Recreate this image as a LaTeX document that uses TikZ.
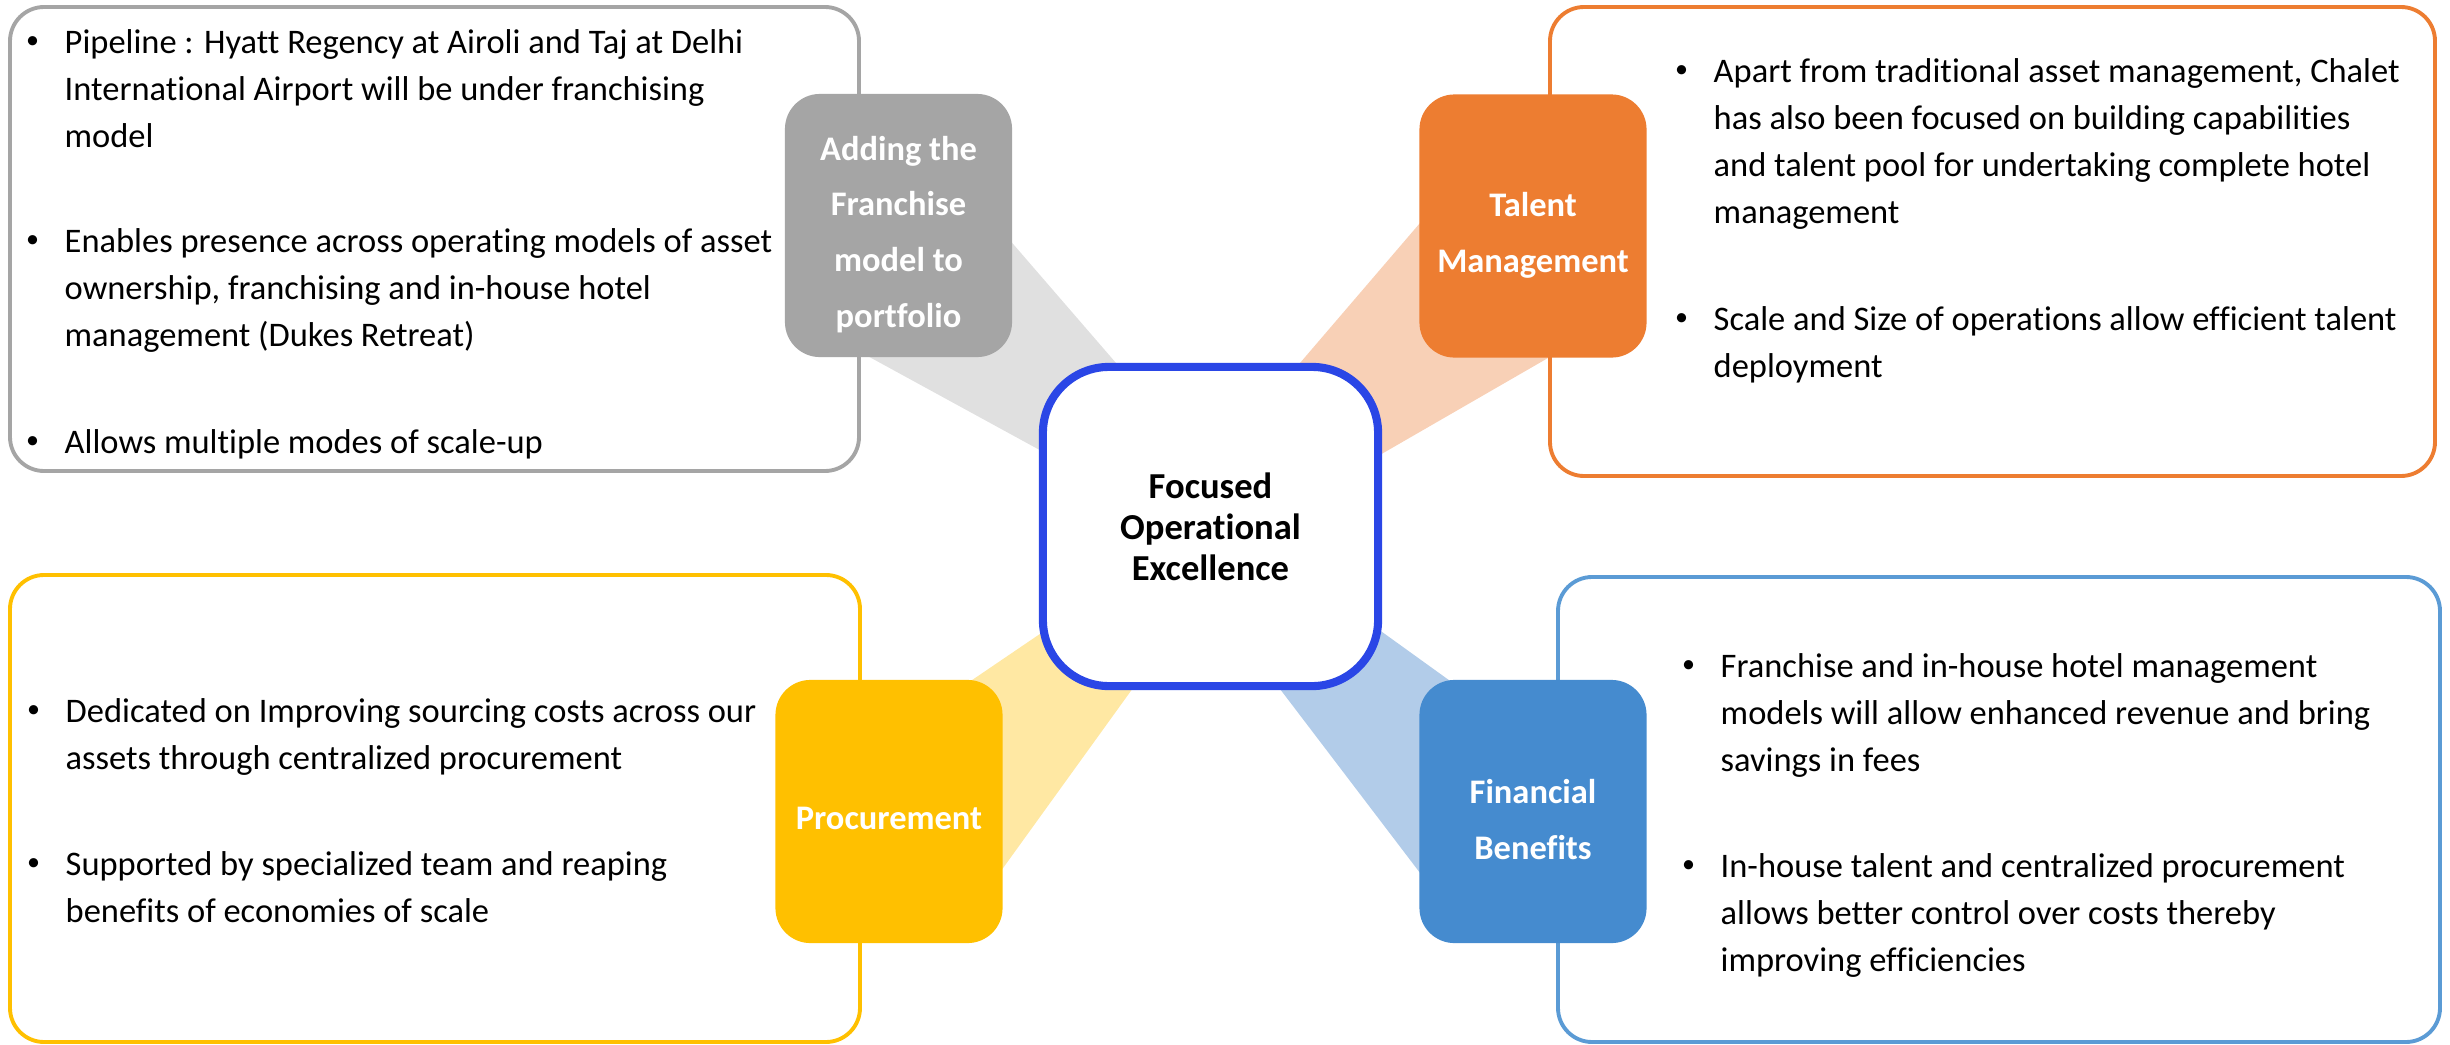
\documentclass[tikz,border=0pt]{standalone}
\usepackage{fontspec}
\setmainfont{Carlito}[Ligatures=NoCommon]
\definecolor{grayc}{HTML}{A5A5A5}
\definecolor{orangec}{HTML}{ED7D31}
\definecolor{yellowc}{HTML}{FFC000}
\definecolor{bluec}{HTML}{458BCF}
\definecolor{blueline}{HTML}{5B9BD5}
\definecolor{coreblue}{HTML}{2A46E6}
\definecolor{graywedge}{HTML}{E0E0E0}
\definecolor{orangewedge}{HTML}{F8D0B6}
\definecolor{yellowwedge}{HTML}{FFE8A3}
\definecolor{bluewedge}{HTML}{B2CCE9}
% bullet hanging left of the first line
\newcommand{\bul}{\llap{\raisebox{0.12em}{\fontsize{7.4}{7.4}\selectfont\textbullet}\hspace{0.255cm}}}
% one bullet item, lines split by \\
\newcommand{\itembox}[1]{\begin{tabular}[t]{@{}l@{}}\bul#1\end{tabular}}
\begin{document}
\begin{tikzpicture}[x=0.01cm,y=-0.01cm, line join=round, line cap=round,
	panel/.style={line width=1.1pt, rounded corners=0.34cm},
	tag/.style={rounded corners=0.35cm, minimum width=2.27cm, minimum height=2.63cm, inner sep=0pt},
	tagtext/.style={text=white, align=center, inner sep=0pt, font=\bfseries\fontsize{9.8}{15.9}\selectfont},
	txt/.style={anchor=base west, inner sep=0pt, font=\fontsize{9.8}{13.4}\selectfont}]
	\useasboundingbox (0,0) rectangle (2450,1045);
	% wedges behind everything
	\coordinate (gA) at (1327,607);
	\coordinate (oA) at (1066,636);
	\coordinate (yA) at (1299,458);
	\coordinate (bA) at (1060,400);
	\fill[graywedge] (gA) -- (950,171) -- (820,330) -- cycle;
	\fill[orangewedge] (oA) -- (1480,153) -- (1600,328) -- cycle;
	\fill[yellowwedge] (yA) -- (900,729) -- (980,900) -- cycle;
	\fill[bluewedge] (bA) -- (1449,911) -- (1546,750) -- cycle;
	% outer panels
	\draw[panel, draw=grayc, fill=white] (10,7) rectangle (859,471);
	\draw[panel, draw=orangec, fill=white] (1550,7) rectangle (2435,476);
	\draw[panel, draw=yellowc, fill=white] (10,575) rectangle (860,1042);
	\draw[panel, draw=blueline, fill=white] (1558,577) rectangle (2440,1042);
	% label boxes
	\node[tag, fill=grayc] (franchise) at (898.5,225.5) {};
	\node[tag, fill=orangec] (talent) at (1533,226) {};
	\node[tag, fill=yellowc] (procure) at (889,811.5) {};
	\node[tag, fill=bluec] (finance) at (1533,811.5) {};
	\node[tagtext] (franchisetxt) at ([yshift=-0.09cm]franchise.center) {Adding the\\Franchise\\model to\\portfolio};
	\node[tagtext] (talenttxt) at ([yshift=-0.09cm]talent.center) {Talent\\Management};
	\node[tagtext] (procuretxt) at ([yshift=-0.07cm]procure.center) {Procurement};
	\node[tagtext] (financetxt) at ([yshift=-0.08cm]finance.center) {Financial\\Benefits};
	% centre
	\node[draw=coreblue, line width=2.3pt, fill=white, rounded corners=0.66cm, minimum width=3.35cm, minimum height=3.19cm, align=center, font=\bfseries\fontsize{10.4}{11.7}\selectfont] (core) at (1210.5,526.5) {Focused\\Operational\\Excellence};
	% bullet texts (placed at the first baseline)
	\node[txt] (tl1) at (64,53) {\itembox{Pipeline : Hyatt Regency at Airoli and Taj at Delhi\\International Airport will be under franchising\\model}};
	\node[txt] (tl2) at (64,252) {\itembox{Enables presence across operating models of asset\\ownership, franchising and in-house hotel\\management (Dukes Retreat)}};
	\node[txt] (tl3) at (64,453) {\itembox{Allows multiple modes of scale-up}};
	\node[txt] (tr1) at (1713,82) {\itembox{Apart from traditional asset management, Chalet\\has also been focused on building capabilities\\and talent pool for undertaking complete hotel\\management}};
	\node[txt] (tr2) at (1713,330) {\itembox{Scale and Size of operations allow efficient talent\\deployment}};
	\node[txt] (bl1) at (65,722) {\itembox{Dedicated on Improving sourcing costs across our\\assets through centralized procurement}};
	\node[txt] (bl2) at (65,875) {\itembox{Supported by specialized team and reaping\\benefits of economies of scale}};
	\node[txt] (br1) at (1720,677) {\itembox{Franchise and in-house hotel management\\models will allow enhanced revenue and bring\\savings in fees}};
	\node[txt] (br2) at (1720,877) {\itembox{In-house talent and centralized procurement\\allows better control over costs thereby\\improving efficiencies}};
\end{tikzpicture}
\end{document}
